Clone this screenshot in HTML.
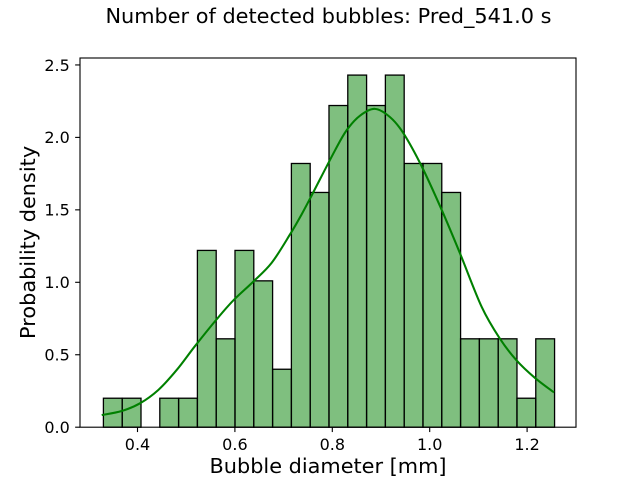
<!DOCTYPE html>
<html>
<head>
<meta charset="utf-8">
<title>Number of detected bubbles</title>
<style>
html,body{margin:0;padding:0;background:#fff;width:640px;height:480px;overflow:hidden}
svg{display:block}
text{font-family:"DejaVu Sans","Liberation Sans",sans-serif;fill:#000}
</style>
</head>
<body>
<svg id="chart" xmlns="http://www.w3.org/2000/svg" width="640" height="480" viewBox="0 0 640 480">
  <rect x="0" y="0" width="640" height="480" fill="#fff"/>
  <text x="328.5" y="23" font-size="20.83" text-anchor="middle">Number of detected bubbles: Pred_541.0 s</text>
  <g id="bars"></g>
  <path id="kde" fill="none" stroke="#008000" stroke-width="2.08" stroke-linejoin="round"/>
  <rect x="80" y="58" width="496" height="369.2" fill="none" stroke="#000" stroke-width="1.11"/>
  <g id="x-axis"></g>
  <g id="y-axis"></g>
  <text x="328" y="473" font-size="20.83" text-anchor="middle">Bubble diameter [mm]</text>
  <text x="35" y="242.4" font-size="20.83" text-anchor="middle" transform="rotate(-90 35 242.4)">Probability density</text>
</svg>
<script>
const binStart = 0.33;
const binWidth = 0.0386;
const densities = [0.20,0.20,0,0.20,0.20,1.22,0.61,1.22,1.01,0.40,1.82,1.62,2.22,2.43,2.22,2.43,1.82,1.82,1.62,0.61,0.61,0.61,0.20,0.61];
const kdeX = [0.3265,0.3676,0.4051,0.4427,0.4805,0.5181,0.5626,0.5967,0.6378,0.6756,0.7131,0.7372,0.7577,0.8055,0.8296,0.8569,0.8877,0.9185,0.9458,0.9836,1.0246,1.0622,1.1068,1.1444,1.1787,1.2162,1.2552];
const kdeY = [0.084,0.112,0.165,0.257,0.395,0.560,0.745,0.875,1.005,1.135,1.330,1.470,1.600,1.910,2.050,2.150,2.197,2.140,2.030,1.800,1.500,1.200,0.830,0.610,0.460,0.340,0.240];
const xTicks = [0.4,0.6,0.8,1.0,1.2];
const yTicks = [0,0.5,1.0,1.5,2.0,2.5];

const SVG_NS = 'http://www.w3.org/2000/svg';
function xScale(v){ return 137.5 + (v - 0.4) * 487; }
function yScale(v){ return 427.2 - v * 144.9; }

const barsGroup = document.getElementById('bars');
densities.forEach(function(d, i){
  if (d <= 0) return;
  const x0 = xScale(binStart + i * binWidth);
  const x1 = xScale(binStart + (i + 1) * binWidth);
  const r = document.createElementNS(SVG_NS, 'rect');
  
  
  r.setAttribute('x', x0);
  r.setAttribute('y', yScale(d));
  r.setAttribute('width', x1 - x0);
  r.setAttribute('height', yScale(0) - yScale(d));
  r.setAttribute('fill', 'rgba(0,128,0,0.5)');
  r.setAttribute('stroke', '#000');
  r.setAttribute('stroke-width', '1.3');
  barsGroup.appendChild(r);
});

(function(){
  const pts = kdeX.map(function(x, i){ return [xScale(x), yScale(kdeY[i])]; });
  let d = 'M' + pts[0][0] + ' ' + pts[0][1];
  for (let i = 0; i < pts.length - 1; i++) {
    const p0 = pts[Math.max(i - 1, 0)];
    const p1 = pts[i];
    const p2 = pts[i + 1];
    const p3 = pts[Math.min(i + 2, pts.length - 1)];
    d += ' C' + (p1[0] + (p2[0] - p0[0]) / 6) + ' ' + (p1[1] + (p2[1] - p0[1]) / 6) +
         ' ' + (p2[0] - (p3[0] - p1[0]) / 6) + ' ' + (p2[1] - (p3[1] - p1[1]) / 6) +
         ' ' + p2[0] + ' ' + p2[1];
  }
  document.getElementById('kde').setAttribute('d', d);
})();

const xAxisGroup = document.getElementById('x-axis');
xTicks.forEach(function(v){
  const px = xScale(v);
  const t = document.createElementNS(SVG_NS, 'line');
  
  
  t.setAttribute('x1', px);
  t.setAttribute('x2', px);
  t.setAttribute('y1', 427.2);
  t.setAttribute('y2', 432.06);
  t.setAttribute('stroke', '#000');
  t.setAttribute('stroke-width', '1.11');
  xAxisGroup.appendChild(t);
  const l = document.createElementNS(SVG_NS, 'text');
  
  
  l.setAttribute('x', px);
  l.setAttribute('y', 450);
  l.setAttribute('font-size', '16');
  l.setAttribute('text-anchor', 'middle');
  l.textContent = v.toFixed(1);
  xAxisGroup.appendChild(l);
});

const yAxisGroup = document.getElementById('y-axis');
yTicks.forEach(function(v){
  const py = yScale(v);
  const t = document.createElementNS(SVG_NS, 'line');
  
  
  t.setAttribute('x1', 75.14);
  t.setAttribute('x2', 80);
  t.setAttribute('y1', py);
  t.setAttribute('y2', py);
  t.setAttribute('stroke', '#000');
  t.setAttribute('stroke-width', '1.11');
  yAxisGroup.appendChild(t);
  const l = document.createElementNS(SVG_NS, 'text');
  
  
  l.setAttribute('x', 69.8);
  l.setAttribute('y', py + 5.8);
  l.setAttribute('font-size', '16');
  l.setAttribute('text-anchor', 'end');
  l.textContent = v.toFixed(1);
  yAxisGroup.appendChild(l);
});
</script>
</body>
</html>
